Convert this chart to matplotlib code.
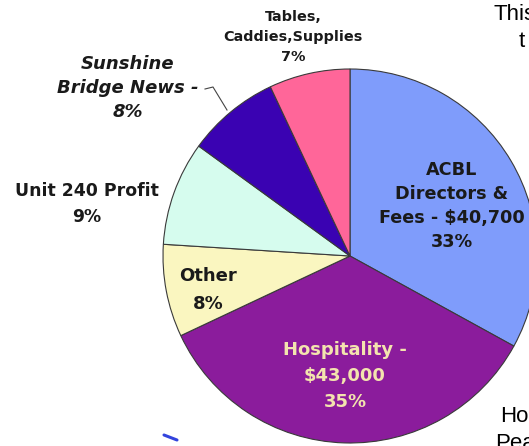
import matplotlib
matplotlib.use("Agg")
import matplotlib.pyplot as plt

# slices, clockwise from 12 o'clock
shares = [33, 35, 8, 9, 8, 7]
colors = ['#7F9CFB', '#8B1C9C', '#FAF6C0', '#D6FCEE', '#3A02B2', '#FF6699']
labels = ['ACBL\nDirectors &\nFees - $40,700\n33%',
          'Hospitality -\n$43,000\n35%',
          'Other\n8%',
          'Unit 240 Profit\n9%',
          'Sunshine\nBridge News -\n8%',
          'Tables,\nCaddies,Supplies\n7%']

W, H = 529, 446


def Y(y):
    # pixel row -> data y
    return H - y


fig = plt.figure(figsize=(W / 100, H / 100), dpi=100)
ax = fig.add_axes([0, 0, 1, 1])

ax.pie(shares, colors=colors, startangle=90, counterclock=False,
       center=(350, Y(256)), radius=187, frame=True,
       wedgeprops=dict(edgecolor='#3a3a3a', linewidth=0.8))

ax.set_xlim(0, W)
ax.set_ylim(0, H)
ax.set_aspect('equal')
ax.axis('off')

txt = '#1a1a1a'
ax.text(452, Y(206), labels[0], ha='center', va='center', fontsize=12.7,
        fontweight='bold', color=txt, linespacing=1.45)
ax.text(345, Y(376), labels[1], ha='center', va='center', fontsize=13,
        fontweight='bold', color='#F3E4AE', linespacing=1.55)
ax.text(208, Y(290), labels[2], ha='center', va='center', fontsize=13,
        fontweight='bold', color=txt, linespacing=1.65)
ax.text(87, Y(204), labels[3], ha='center', va='center', fontsize=12.4,
        fontweight='bold', color=txt, linespacing=1.55)
ax.text(128, Y(88), labels[4], ha='center', va='center', fontsize=13,
        fontweight='bold', fontstyle='italic', color=txt, linespacing=1.45)
ax.text(293, Y(37), labels[5], ha='center', va='center', fontsize=10.4,
        fontweight='bold', color=txt, linespacing=1.55)

# leader for the Sunshine slice
ax.plot([205, 213, 227], [Y(89), Y(87), Y(110)], color='#444444', lw=0.8)

# cut-off text at the right edge
side = 'Liberation Sans'
ax.text(493, Y(20), 'This', fontsize=16, family=side, color='black', va='baseline')
ax.text(519, Y(47), 't', fontsize=16, family=side, color='black', va='baseline')
ax.text(500, Y(422), 'Ho', fontsize=16, family=side, color='black', va='baseline')
ax.text(495, Y(449), 'Pea', fontsize=16, family=side, color='black', va='baseline')

# small blue stroke near the bottom
ax.plot([164, 177], [Y(435), Y(440)], color='#3344dd', lw=2.2, solid_capstyle='round')

fig.savefig('out.png', dpi=100)
